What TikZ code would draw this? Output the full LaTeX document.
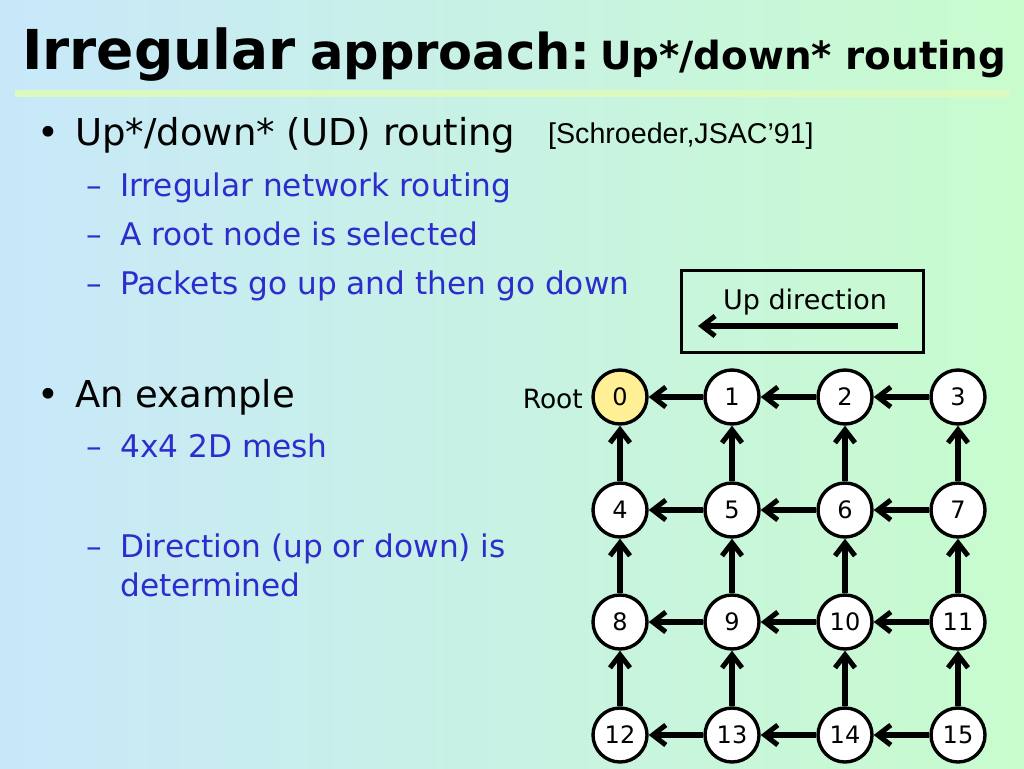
\documentclass[tikz,border=0pt]{standalone}
\usepackage{fontspec}
\setmainfont{DejaVu Sans}
\newfontfamily\arialf{Liberation Sans}
\usetikzlibrary{arrows.meta}
\definecolor{bgleft}{RGB}{200,232,250}
\definecolor{bgright}{RGB}{200,252,205}
\definecolor{txtblue}{RGB}{45,45,205}
\definecolor{rootfill}{RGB}{255,240,150}
\definecolor{ruleclr}{RGB}{218,250,192}
\tikzset{
  meshnode/.style={circle,draw=black,line width=3.4pt,fill=white,minimum size=54pt,inner sep=0pt,font=\fontsize{24}{28}\selectfont},
  rootnode/.style={meshnode,fill=rootfill},
  uparrow/.style={-{Straight Barb[length=13pt,width=20pt,line width=5pt]},line width=5.5pt},
  lvlone/.style={anchor=base west,inner sep=0pt,font=\fontsize{37}{42}\selectfont},
  lvltwo/.style={anchor=base west,inner sep=0pt,text=txtblue,font=\fontsize{31.2}{36}\selectfont},
}
\begin{document}
\begin{tikzpicture}[x=1pt,y=-1pt]
\useasboundingbox (0,0) rectangle (1024,768);
\shade[left color=bgleft,right color=bgright] (0,0) rectangle (1024,768);
% title
\node[anchor=base west,inner sep=0pt,font=\fontsize{55}{60}\selectfont\bfseries] (t1) at (22,70) {Irregular};
\node[anchor=base west,inner sep=0pt,font=\fontsize{49.5}{54}\selectfont\bfseries] (t2) at (310,70) {approach:};
\node[anchor=base west,inner sep=0pt,font=\fontsize{38.8}{44}\selectfont\bfseries] (t3) at (600,70) {Up*/down* routing};
\fill[ruleclr] (15,90) rectangle (1010,97);
% bullets
\node[lvlone] (b1) at (37,145) {•};
\node[lvlone] (l1) at (75,145) {Up*/down* (UD) routing};
\node[anchor=base west,inner sep=0pt,font=\arialf\fontsize{28.6}{32}\selectfont] (ref) at (548,143) {[Schroeder,JSAC’91]};
\node[lvltwo] (d1) at (86,196) {–};
\node[lvltwo] (s1) at (120,196) {Irregular network routing};
\node[lvltwo] (d2) at (86,245) {–};
\node[lvltwo] (s2) at (120,245) {A root node is selected};
\node[lvltwo] (d3) at (86,294) {–};
\node[lvltwo] (s3) at (120,294) {Packets go up and then go down};
\node[lvlone] (b2) at (37,407) {•};
\node[lvlone] (l2) at (75,407) {An example};
\node[lvltwo] (d4) at (86,457) {–};
\node[lvltwo] (s4) at (120,457) {4x4 2D mesh};
\node[lvltwo] (d5) at (86,557) {–};
\node[lvltwo] (s5) at (120,557) {Direction (up or down) is};
\node[lvltwo] (s6) at (120,596) {determined};
% legend
\node[draw=black,line width=3pt,minimum width=242pt,minimum height=82pt,inner sep=0pt] (legend) at (802,311) {};
\node[inner sep=0pt,font=\fontsize{27}{32}\selectfont] (legtxt) at (805,302) {Up direction};
\coordinate (la) at (898,326);
\coordinate (lb) at (698,326);
\draw[uparrow] (la) -- (lb);
% mesh
\foreach \r/\yy in {0/397,1/510,2/622,3/735}{
  \foreach \c/\xx in {0/620,1/732,2/845,3/958}{
    \pgfmathtruncatemacro{\idx}{\r*4+\c}
    \ifnum\idx=0
      \node[rootnode] (n\idx) at (\xx,\yy) {\idx};
    \else
      \node[meshnode] (n\idx) at (\xx,\yy) {\idx};
    \fi
  }
}
\node[anchor=east,inner sep=0pt,font=\fontsize{26.5}{30}\selectfont] (root) at (583,399) {Root};
\foreach \r in {0,1,2,3}{
  \foreach \c in {1,2,3}{
    \pgfmathtruncatemacro{\a}{\r*4+\c}
    \pgfmathtruncatemacro{\b}{\r*4+\c-1}
    \draw[uparrow] (n\a) -- (n\b);
  }
}
\foreach \r in {1,2,3}{
  \foreach \c in {0,1,2,3}{
    \pgfmathtruncatemacro{\a}{\r*4+\c}
    \pgfmathtruncatemacro{\b}{(\r-1)*4+\c}
    \draw[uparrow] (n\a) -- (n\b);
  }
}
\end{tikzpicture}
\end{document}
